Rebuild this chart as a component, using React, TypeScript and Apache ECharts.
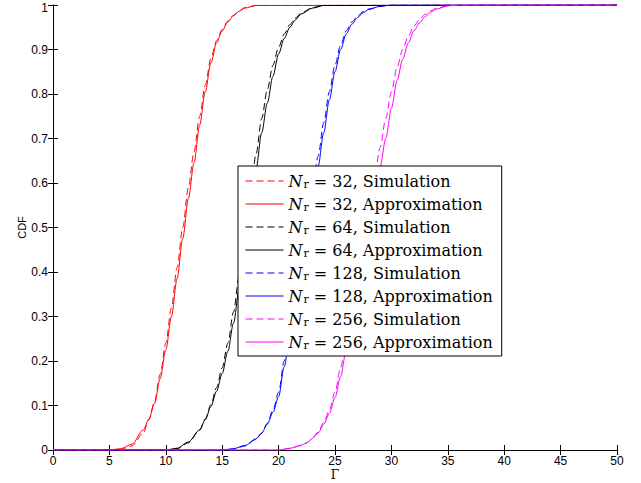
import React, { useEffect, useRef } from "react";
import * as echarts from "echarts";

// Γ ticks: 0..50 step 5 ; CDF ticks: 0..1 step 0.1
const xTicks = { min: 0, max: 50, step: 5 };
const yTicks = { min: 0, max: 1, step: 0.1 };

const nr32X = [0, 5, 6, 7, 8, 8.5, 9, 9.5, 10, 10.5, 11, 11.5, 12, 12.5, 13, 13.5, 14, 14.5, 15, 15.5, 16, 16.5, 17, 18, 50];
const nr32Approx = [0, 0, 0.003, 0.013, 0.045, 0.07, 0.105, 0.16, 0.225, 0.3, 0.385, 0.475, 0.565, 0.645, 0.73, 0.805, 0.87, 0.915, 0.942, 0.962, 0.976, 0.986, 0.993, 0.999, 1];
const nr32Sim = [0, 0, 0.001, 0.009, 0.038, 0.068, 0.108, 0.17, 0.24, 0.32, 0.41, 0.5, 0.59, 0.67, 0.75, 0.82, 0.88, 0.92, 0.945, 0.964, 0.977, 0.987, 0.994, 0.999, 1];

const nr64X = [0, 10, 11, 12, 13, 13.5, 14, 14.5, 15, 15.5, 16, 16.5, 17, 17.5, 18, 18.5, 19, 19.5, 20, 20.5, 21, 21.5, 22, 23, 24, 50];
const nr64Approx = [0, 0, 0.004, 0.018, 0.045, 0.068, 0.098, 0.132, 0.172, 0.222, 0.285, 0.36, 0.445, 0.54, 0.632, 0.713, 0.78, 0.84, 0.89, 0.925, 0.95, 0.967, 0.98, 0.993, 0.999, 1];
const nr64Sim = [0, 0, 0.003, 0.016, 0.045, 0.07, 0.102, 0.14, 0.185, 0.24, 0.31, 0.39, 0.48, 0.575, 0.665, 0.745, 0.81, 0.865, 0.905, 0.935, 0.956, 0.971, 0.982, 0.994, 0.999, 1];

const nr128X = [0, 15, 16, 17, 18, 18.5, 19, 19.5, 20, 20.5, 21, 21.5, 22, 22.5, 23, 23.5, 24, 24.5, 25, 25.5, 26, 26.5, 27, 27.5, 28, 29, 30, 50];
const nr128Approx = [0, 0, 0.003, 0.01, 0.025, 0.038, 0.058, 0.085, 0.12, 0.187, 0.26, 0.335, 0.41, 0.49, 0.565, 0.637, 0.713, 0.787, 0.85, 0.9, 0.935, 0.957, 0.972, 0.983, 0.99, 0.997, 1, 1];
const nr128Sim = [0, 0, 0.002, 0.009, 0.024, 0.038, 0.06, 0.09, 0.13, 0.2, 0.28, 0.355, 0.435, 0.515, 0.59, 0.66, 0.735, 0.805, 0.865, 0.91, 0.942, 0.962, 0.975, 0.985, 0.991, 0.997, 1, 1];

const nr256X = [0, 20, 21, 22, 22.5, 23, 23.5, 24, 24.5, 25, 25.5, 26, 26.5, 27, 27.5, 28, 28.5, 29, 29.5, 30, 30.5, 31, 31.5, 32, 32.5, 33, 33.5, 34, 35, 36, 50];
const nr256Approx = [0, 0, 0.004, 0.011, 0.016, 0.026, 0.038, 0.058, 0.082, 0.118, 0.165, 0.225, 0.29, 0.36, 0.43, 0.5, 0.57, 0.637, 0.7, 0.768, 0.83, 0.878, 0.915, 0.942, 0.96, 0.974, 0.984, 0.991, 0.998, 1, 1];
const nr256Sim = [0, 0, 0.003, 0.01, 0.016, 0.027, 0.04, 0.062, 0.09, 0.13, 0.185, 0.25, 0.32, 0.395, 0.47, 0.545, 0.615, 0.68, 0.745, 0.805, 0.86, 0.9, 0.93, 0.953, 0.968, 0.979, 0.987, 0.993, 0.998, 1, 1];

const seriesNames = [
  "N_r = 32, Simulation",
  "N_r = 32, Approximation",
  "N_r = 64, Simulation",
  "N_r = 64, Approximation",
  "N_r = 128, Simulation",
  "N_r = 128, Approximation",
  "N_r = 256, Simulation",
  "N_r = 256, Approximation",
];
const seriesColors = ["#ff0000", "#ff0000", "#000000", "#000000", "#0000ff", "#0000ff", "#ff00ff", "#ff00ff"];

const zip = (xs: number[], ys: number[]) => xs.map((x, i) => [x, ys[i]]);

export default function App() {
  const ref = useRef<HTMLDivElement>(null);
  useEffect(() => {
    const chart = echarts.init(ref.current!, null, { renderer: "svg" });
    const curves = [
      zip(nr32X, nr32Sim),
      zip(nr32X, nr32Approx),
      zip(nr64X, nr64Sim),
      zip(nr64X, nr64Approx),
      zip(nr128X, nr128Sim),
      zip(nr128X, nr128Approx),
      zip(nr256X, nr256Sim),
      zip(nr256X, nr256Approx),
    ];
    const axisLabelStyle = { color: "#000", fontFamily: "Liberation Sans", fontSize: 12, lineHeight: 12 };
    const series = curves.map((data, i) => {
      const dashed = i % 2 === 0;
      return {
        type: "line",
        name: seriesNames[i],
        data,
        symbol: "none",
        smooth: 0.3,
        smoothMonotone: "x",
        color: seriesColors[i],
        lineStyle: { color: seriesColors[i], width: 1, type: dashed ? [7, 4] : "solid" },
        z: 2,
      };
    });
    chart.setOption({
      animation: false,
      backgroundColor: "#fff",
      grid: { left: 53, top: 5, width: 564, height: 445, containLabel: false, outerBoundsMode: "none" },
      xAxis: [
        {
          type: "value",
          min: xTicks.min,
          max: xTicks.max,
          interval: xTicks.step,
          name: "Γ",
          nameLocation: "middle",
          nameGap: 19,
          nameMoveOverlap: false,
          nameTextStyle: { color: "#000", fontFamily: "DejaVu Serif", fontSize: 12, lineHeight: 12 },
          axisLine: { show: true, lineStyle: { color: "#000", width: 1 } },
          axisTick: { show: true, inside: true, length: 5, lineStyle: { color: "#000" } },
          axisLabel: { ...axisLabelStyle, margin: 5 },
          splitLine: { show: false },
        },
        {
          type: "value",
          position: "top",
          min: xTicks.min,
          max: xTicks.max,
          interval: xTicks.step,
          axisLine: { show: true, lineStyle: { color: "#000", width: 1 } },
          axisTick: { show: true, inside: true, length: 5, lineStyle: { color: "#000" } },
          axisLabel: { show: false },
          splitLine: { show: false },
        },
      ],
      yAxis: [
        {
          type: "value",
          min: yTicks.min,
          max: yTicks.max,
          interval: yTicks.step,
          name: "CDF",
          nameLocation: "middle",
          nameGap: 26,
          nameMoveOverlap: false,
          nameTextStyle: { color: "#000", fontFamily: "Liberation Sans", fontSize: 11 },
          axisLine: { show: true, lineStyle: { color: "#000", width: 1 } },
          axisTick: { show: true, inside: true, length: 5, lineStyle: { color: "#000" } },
          axisLabel: {
            ...axisLabelStyle,
            margin: 5,
            formatter: (v: number) => (v === yTicks.max ? `{top|${v}}` : `${v}`),
            rich: {
              top: { fontFamily: "Liberation Sans", fontSize: 12, lineHeight: 12, color: "#000", padding: [6, 0, 0, 0] },
            },
          },
          splitLine: { show: false },
        },
        {
          type: "value",
          position: "right",
          min: yTicks.min,
          max: yTicks.max,
          interval: yTicks.step,
          axisLine: { show: true, lineStyle: { color: "#000", width: 1 } },
          axisTick: { show: true, inside: true, length: 5, lineStyle: { color: "#000" } },
          axisLabel: { show: false },
          splitLine: { show: false },
        },
      ],
      legend: {
        orient: "vertical",
        left: 238,
        top: 166,
        padding: [6, 9, 5, 7],
        itemWidth: 38,
        itemHeight: 14,
        itemGap: 5,
        backgroundColor: "#fff",
        borderColor: "#000",
        borderWidth: 1,
        borderRadius: 0,
        itemStyle: { opacity: 0 },
        lineStyle: { width: 1 },
        data: seriesNames,
        formatter: (name: string) => `{n|N}{r|r}{t|${name.replace(/^N_r/, "")}}`,
        textStyle: {
          color: "#000",
          fontFamily: "DejaVu Serif",
          fontSize: 16,
          rich: {
            n: { fontFamily: "DejaVu Serif", fontStyle: "italic", fontSize: 16, lineHeight: 18, color: "#000" },
            r: { fontFamily: "DejaVu Serif", fontSize: 11, lineHeight: 11, padding: [7, 0, 0, 1], color: "#000" },
            t: { fontFamily: "DejaVu Serif", fontSize: 16, lineHeight: 18, color: "#000" },
          },
        },
      },
      series,
    });
    return () => chart.dispose();
  }, []);
  return (
    <div
      ref={ref}
      style={{ position: "fixed", left: 0, top: 0, width: 641, height: 483, background: "#fff" }}
    />
  );
}
